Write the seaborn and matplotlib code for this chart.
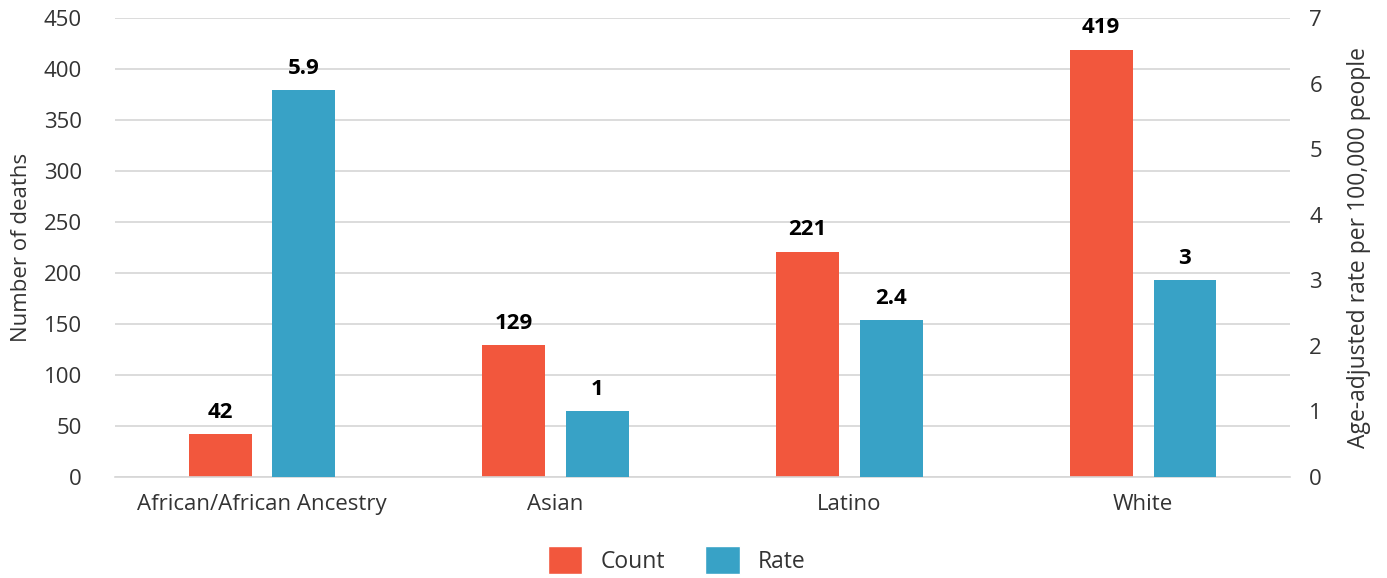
import matplotlib
matplotlib.use('Agg')
import matplotlib.pyplot as plt
import numpy as np
import pandas as pd
import seaborn as sns
from matplotlib.patches import Patch

groups = ['African/African Ancestry', 'Asian', 'Latino', 'White']
counts = [42, 129, 221, 419]
rates = [5.9, 1, 2.4, 3]
count_labels = ['42', '129', '221', '419']
rate_labels = ['5.9', '1', '2.4', '3']

red = '#F2573D'
blue = '#38A2C6'
grid_col = '#D6D6D6'
text_col = '#333333'

sns.set_theme(style='white')
plt.rcParams['font.family'] = ['Open Sans', 'DejaVu Sans']

# long form table, each axis only gets its own series (other one NaN)
count_df = pd.DataFrame({'group': groups * 2,
                         'series': ['Count'] * 4 + ['Rate'] * 4,
                         'value': counts + [np.nan] * 4})
rate_df = pd.DataFrame({'group': groups * 2,
                        'series': ['Count'] * 4 + ['Rate'] * 4,
                        'value': [np.nan] * 4 + rates})

fig = plt.figure(figsize=(13.87, 5.78), dpi=100)
ax = fig.add_axes([0.083, 0.1747, 0.847, 0.7942])
ax2 = ax.twinx()

palette = {'Count': red, 'Rate': blue}
sns.barplot(data=count_df, x='group', y='value', hue='series', order=groups,
            hue_order=['Count', 'Rate'], palette=palette, width=0.57, gap=0.25,
            saturation=1, legend=False, linewidth=0, ax=ax)
sns.barplot(data=rate_df, x='group', y='value', hue='series', order=groups,
            hue_order=['Count', 'Rate'], palette=palette, width=0.57, gap=0.25,
            saturation=1, legend=False, linewidth=0, ax=ax2)

ax.set_ylim(0, 450)
ax.set_yticks(np.arange(0, 451, 50))
ax2.set_ylim(0, 7)
ax2.set_yticks(np.arange(0, 8, 1))
ax.set_xlim(-0.5, 3.5)

ax.yaxis.grid(True, color=grid_col, linewidth=1.2)
ax.set_axisbelow(True)
for a in (ax, ax2):
    for s in a.spines.values():
        s.set_visible(False)
    a.tick_params(length=0, labelsize=16, colors=text_col)
ax.spines['bottom'].set_visible(True)
ax.spines['bottom'].set_color(grid_col)
ax.spines['bottom'].set_linewidth(1.2)
ax.tick_params(axis='y', pad=24)
ax2.tick_params(axis='y', pad=14)
ax.tick_params(axis='x', pad=12)

ax.set_xlabel('')
ax.set_ylabel('Number of deaths', fontsize=16, color=text_col, labelpad=8)
ax2.set_ylabel('Age-adjusted rate per 100,000 people', fontsize=16.5, color=text_col,
               rotation=90, labelpad=18)

# value labels
for bars, labs in ((ax.patches, count_labels), (ax2.patches, rate_labels)):
    real = [b for b in bars if np.isfinite(b.get_height()) and b.get_height() > 0]
    real.sort(key=lambda b: b.get_x())
    for b, lab in zip(real, labs):
        b.axes.annotate(lab, (b.get_x() + b.get_width() / 2, b.get_height()),
                        xytext=(0, 8), textcoords='offset points', ha='center',
                        va='bottom', fontsize=16, fontweight='bold', color='black')

handles = [Patch(facecolor=red, label='Count'), Patch(facecolor=blue, label='Rate')]
fig.legend(handles=handles, loc='lower center', ncol=2, frameon=False,
           bbox_to_anchor=(0.488, -0.029), fontsize=16.5, handlelength=1.5,
           handleheight=1.5, columnspacing=1.75, handletextpad=0.8,
           labelcolor=text_col)

fig.savefig('out.png', dpi=100)
